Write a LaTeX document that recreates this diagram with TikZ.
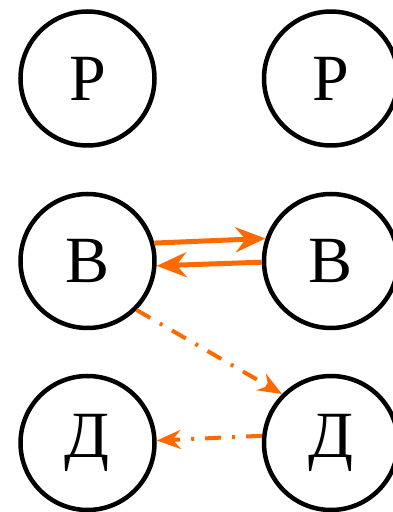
\documentclass[tikz,border=0pt]{standalone}
\usepackage{fontspec}
\setmainfont{Liberation Serif}
\usetikzlibrary{arrows.meta}
\definecolor{arrorange}{RGB}{255,106,0}
\tikzset{
  state/.style={draw=black, line width=4.5pt, circle, minimum size=134pt, inner sep=0pt,
    font=\fontsize{66}{72}\selectfont},
  solidarr/.style={draw=arrorange, line width=5pt,
    -{Stealth[length=30pt, width=25pt, inset=10pt]}},
  dasharr/.style={draw=arrorange, line width=4pt,
    dash pattern=on 16pt off 11pt on 3pt off 11pt,
    -{Stealth[length=24pt, width=19pt, inset=8pt]}}
}
\begin{document}
\begin{tikzpicture}[x=1pt,y=1pt]
\useasboundingbox (0,0) rectangle (393,512);
\node[state] (R1) at (87.5,433.5) {Р};
\node[state] (R2) at (331,433.5) {Р};
\node[state] (B1) at (87.5,251) {В};
\node[state] (B2) at (331,251) {В};
\node[state] (D1) at (87.5,69) {Д};
\node[state] (D2) at (331,69) {Д};
\draw[solidarr] (B1.15) -- (B2.161);
\draw[solidarr] (B2.181) -- (B1.-4);
\draw[dasharr] (B1.-45) -- (D2.135);
\draw[dasharr] (D2.174) -- (D1.2.5);
\end{tikzpicture}
\end{document}
